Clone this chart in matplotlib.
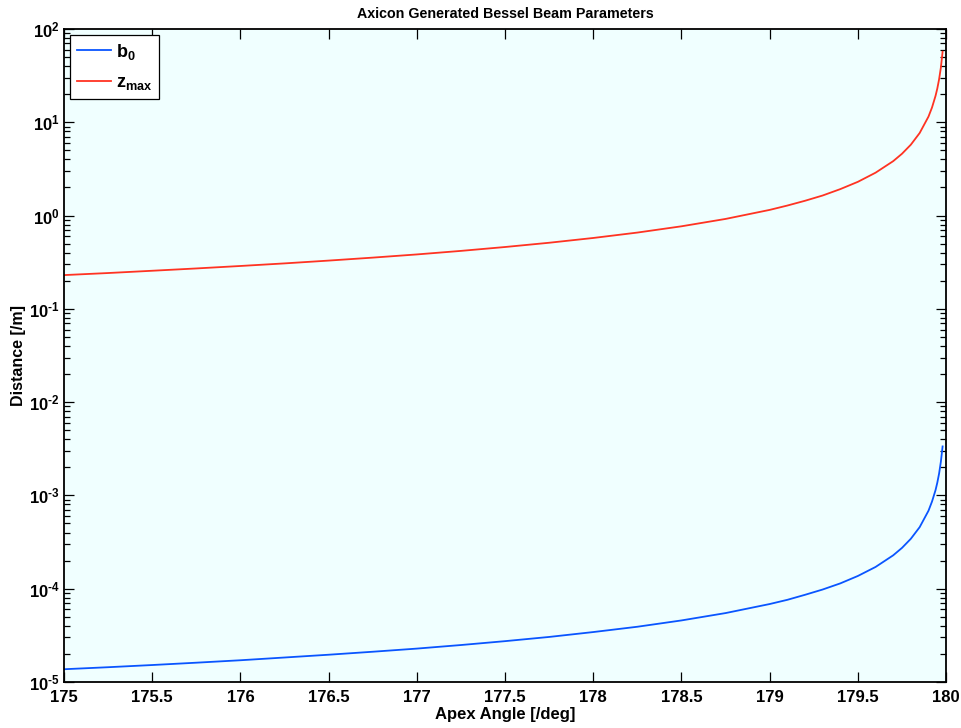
import matplotlib
matplotlib.use("Agg")
import matplotlib.pyplot as plt
from matplotlib.ticker import LogLocator, NullFormatter, FuncFormatter
import numpy as np

plt.rcParams["font.family"] = ["Liberation Sans", "DejaVu Sans"]
plt.rcParams["font.weight"] = "bold"
plt.rcParams["mathtext.fontset"] = "custom"
plt.rcParams["mathtext.rm"] = "Liberation Sans:bold"
plt.rcParams["mathtext.bf"] = "Liberation Sans:bold"
plt.rcParams["mathtext.default"] = "rm"

# apex angle [deg]
apex = [175.0, 175.25, 175.5, 175.75, 176.0, 176.25, 176.5, 176.75,
        177.0, 177.25, 177.5, 177.75, 178.0, 178.25, 178.5, 178.75,
        179.0, 179.1, 179.2, 179.3, 179.4, 179.5, 179.6, 179.7,
        179.75, 179.8, 179.85, 179.9, 179.92, 179.94, 179.95, 179.96,
        179.97, 179.98]

# central spot radius b0 [m]
b0 = [1.37e-5, 1.44e-5, 1.52e-5, 1.61e-5, 1.71e-5, 1.83e-5, 1.96e-5, 2.11e-5,
      2.28e-5, 2.49e-5, 2.74e-5, 3.04e-5, 3.43e-5, 3.91e-5, 4.57e-5, 5.48e-5,
      6.85e-5, 7.6e-5, 8.6e-5, 9.8e-5, 1.14e-4, 1.37e-4, 1.71e-4, 2.28e-4,
      2.74e-4, 3.43e-4, 4.57e-4, 6.85e-4, 8.6e-4, 1.14e-3, 1.37e-3, 1.71e-3,
      2.28e-3, 3.35e-3]

# max propagation distance zmax [m]
zmax = [0.230, 0.242, 0.256, 0.271, 0.288, 0.307, 0.329, 0.354,
        0.383, 0.418, 0.460, 0.511, 0.575, 0.657, 0.767, 0.920,
        1.15, 1.28, 1.44, 1.64, 1.92, 2.30, 2.88, 3.83,
        4.6, 5.75, 7.67, 11.5, 14.4, 19.2, 23.0, 28.8,
        38.3, 57.0]


def pow10_label(v, pos):
    e = int(round(np.log10(v)))
    if e < 0:
        return r"$10^{\text{-}%d}$" % (-e)
    return r"$10^{%d}$" % e


fig = plt.figure(figsize=(9.62, 7.28), dpi=100)
ax = fig.add_axes([0.0665, 0.0632, 0.917, 0.897])
ax.set_facecolor("#f0ffff")

ax.semilogy(apex, b0, color="#0a55ff", lw=1.3, label=r"$\mathrm{b_0}$")
ax.semilogy(apex, zmax, color="#ff3322", lw=1.3, label=r"$\mathrm{z_{max}}$")

ax.set_xlim(175, 180)
ax.set_ylim(1e-5, 1e2)
ax.set_xticks([175, 175.5, 176, 176.5, 177, 177.5, 178, 178.5, 179, 179.5, 180])
ax.set_xticklabels(["175", "175.5", "176", "176.5", "177", "177.5", "178",
                    "178.5", "179", "179.5", "180"])
ax.yaxis.set_major_locator(LogLocator(base=10, numticks=20))
ax.yaxis.set_major_formatter(FuncFormatter(pow10_label))
ax.yaxis.set_minor_locator(LogLocator(base=10, subs=range(2, 10), numticks=20))
ax.yaxis.set_minor_formatter(NullFormatter())

ax.tick_params(which="both", direction="in", top=True, right=True,
               labelsize=12, width=0.9)
ax.tick_params(axis="x", which="major", pad=6)
ax.tick_params(axis="y", which="major", pad=3)
ax.tick_params(which="major", length=7)
ax.tick_params(which="minor", length=4)
for s in ax.spines.values():
    s.set_linewidth(1.3)

ax.set_xlabel("Apex Angle [/deg]", fontsize=12, fontweight="bold", labelpad=1)
ax.set_ylabel("Distance [/m]", fontsize=11.5, fontweight="bold", labelpad=2)
ax.set_title("Axicon Generated Bessel Beam Parameters", fontsize=10.3,
             fontweight="bold", pad=8)

leg = ax.legend(loc="upper left", fontsize=13, fancybox=False, framealpha=1,
                edgecolor="black", handlelength=1.9, handletextpad=0.3,
                borderpad=0.35, labelspacing=0.7, borderaxespad=0.35)
leg.get_frame().set_linewidth(0.9)

fig.savefig("out.png", dpi=100)
